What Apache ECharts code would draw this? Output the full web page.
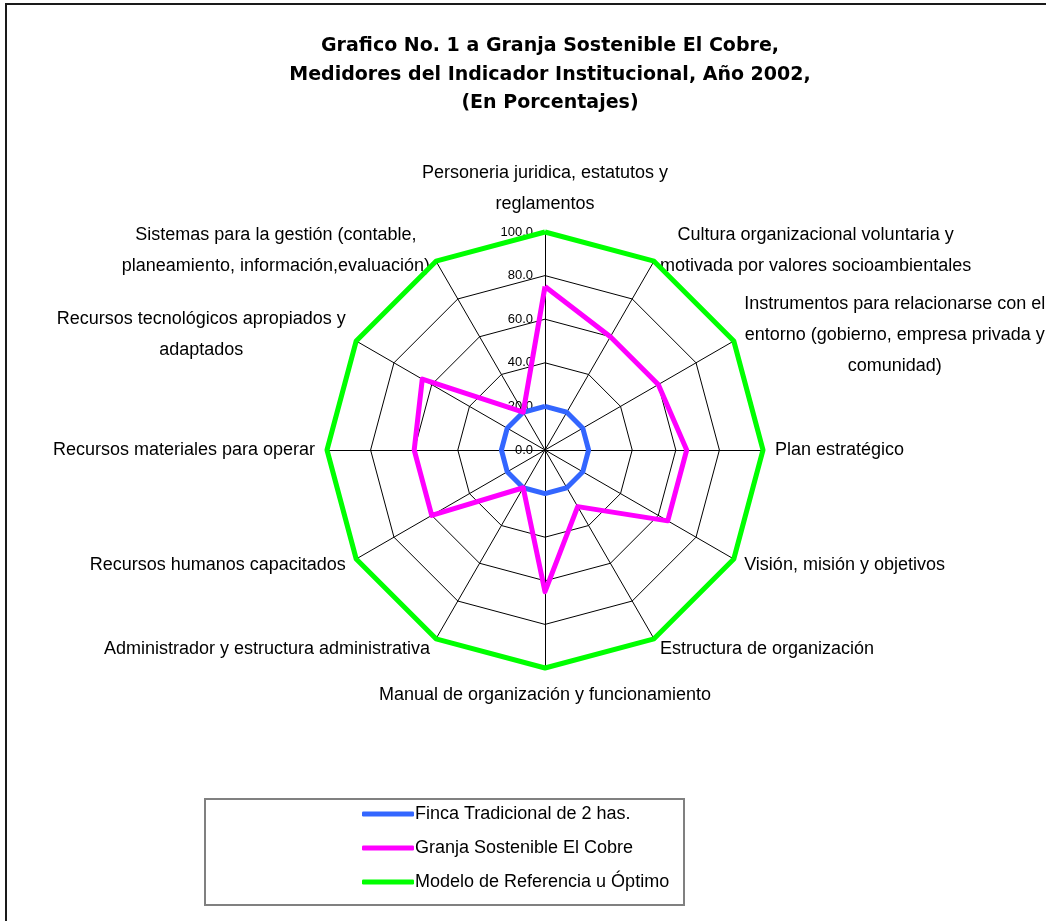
<!DOCTYPE html>
<html>
<head>
<meta charset="utf-8">
<script src="https://cdn.jsdelivr.net/npm/echarts@6/dist/echarts.min.js"></script>
<style>
  html, body { margin: 0; padding: 0; background: #fff; }
  #main { width: 1046px; height: 921px; }
</style>
</head>
<body>
<div id="main"></div>
<script>
// indicadores, en sentido horario desde arriba
var indicadores = [
  'Personeria juridica, estatutos y\nreglamentos',
  'Cultura organizacional voluntaria y\nmotivada por valores socioambientales',
  'Instrumentos para relacionarse con el\nentorno (gobierno, empresa privada y\ncomunidad)',
  'Plan estratégico',
  'Visión, misión y objetivos',
  'Estructura de organización',
  'Manual de organización y funcionamiento',
  'Administrador y estructura administrativa',
  'Recursos humanos capacitados',
  'Recursos materiales para operar',
  'Recursos tecnológicos apropiados y\nadaptados',
  'Sistemas para la gestión (contable,\nplaneamiento, información,evaluación)'
];
var seriesNames = [
  'Finca Tradicional de 2 has.',
  'Granja Sostenible El Cobre',
  'Modelo de Referencia u Óptimo'
];
var fincaTradicional = [20, 20, 20, 20, 20, 20, 20, 20, 20, 20, 20, 20];
var granjaCobre = [75, 60, 60, 65, 65, 30, 65, 20, 60, 60, 65, 20];
var modeloOptimo = [100, 100, 100, 100, 100, 100, 100, 100, 100, 100, 100, 100];
var colores = ['#3366ff', '#ff00ff', '#00ff00'];

var fontNarrow = "'Liberation Sans Narrow', 'Arial Narrow', 'Liberation Sans', Arial, sans-serif";

// echarts pone los indicadores en sentido antihorario: invertir desde el segundo
function horario(arr) {
  return [arr[0]].concat(arr.slice(1).reverse());
}

var chartDom = document.getElementById('main');
var myChart = echarts.init(chartDom);
var option;

var indicator = horario(indicadores).map(function (n, i) {
  var ind = { name: n, min: 0, max: 100 };
  if (i === 0) {
    ind.axisLabel = {
      show: true,
      fontSize: 13,
      fontFamily: fontNarrow,
      color: '#000',
      margin: 12,
      formatter: function (v) { return v.toFixed(1); }
    };
  }
  return ind;
});

var valores = [fincaTradicional, granjaCobre, modeloOptimo];

option = {
  backgroundColor: '#fff',
  animation: false,
  title: {
    text: 'Grafico No. 1 a Granja Sostenible El Cobre,\nMedidores del Indicador Institucional, Año 2002,\n(En Porcentajes)',
    left: 545,
    top: 27,
    textAlign: 'center',
    textStyle: {
      fontFamily: "'DejaVu Sans', 'Liberation Sans', Arial, sans-serif",
      fontSize: 19,
      fontWeight: 'bold',
      color: '#000',
      lineHeight: 28.5
    }
  },
  legend: {
    orient: 'vertical',
    left: 357,
    top: 799,
    itemWidth: 52,
    itemHeight: 5,
    itemGap: 14,
    icon: 'roundRect',
    data: seriesNames,
    textStyle: {
      fontFamily: fontNarrow,
      fontSize: 18,
      color: '#000',
      lineHeight: 20,
      padding: [0, 0, 0, -4]
    }
  },
  graphic: [
    {
      type: 'rect',
      shape: { x: 6, y: 4, width: 1100, height: 1000 },
      style: { fill: null, stroke: '#1a1a1a', lineWidth: 2 },
      silent: true
    },
    {
      type: 'rect',
      shape: { x: 205, y: 799, width: 479, height: 106 },
      style: { fill: null, stroke: '#808080', lineWidth: 2 },
      silent: true
    }
  ],
  radar: {
    center: [545, 450],
    radius: 218,
    startAngle: 90,
    shape: 'polygon',
    splitNumber: 5,
    nameGap: 12,
    axisName: {
      color: '#000',
      fontFamily: fontNarrow,
      fontSize: 18,
      lineHeight: 31,
      formatter: function (name) {
        return name.split('\n').map(function (s) { return '{c|' + s + '}'; }).join('\n');
      },
      rich: {
        c: {
          align: 'center',
          fontFamily: fontNarrow,
          fontSize: 18,
          lineHeight: 31,
          color: '#000'
        }
      }
    },
    axisLine: { lineStyle: { color: '#000', width: 1 } },
    splitLine: { lineStyle: { color: '#000', width: 1 } },
    splitArea: { show: false },
    axisTick: { show: false },
    axisLabel: { show: false },
    indicator: indicator
  },
  series: [
    {
      type: 'radar',
      symbol: 'none',
      data: valores.map(function (v, i) {
        return {
          name: seriesNames[i],
          value: horario(v),
          itemStyle: { color: colores[i] },
          lineStyle: { color: colores[i], width: 5 }
        };
      })
    }
  ]
};

option && myChart.setOption(option);
</script>
</body>
</html>
